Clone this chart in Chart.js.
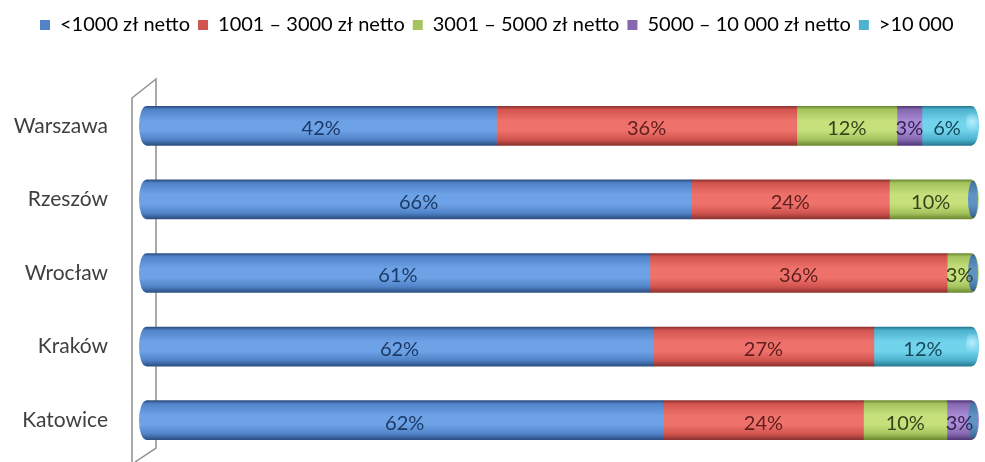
<!DOCTYPE html>
<html>
<head>
<meta charset="utf-8">
<title>Zarobki netto wg miasta</title>
<script src="https://cdn.jsdelivr.net/npm/chart.js@4/dist/chart.umd.min.js"></script>
<style>
  html, body { margin: 0; padding: 0; background: #fff; }
  #wrap { width: 985px; height: 462px; }
</style>
</head>
<body>
<div id="wrap"><canvas id="income-chart"></canvas></div>
<script>
const cities = ["Warszawa", "Rzeszów", "Wrocław", "Kraków", "Katowice"];

const seriesNames = [
    "<1000 zł netto",
    "1001 – 3000 zł netto",
    "3001 – 5000 zł netto",
    "5000 – 10 000 zł netto",
    ">10 000",
];

// percent of respondents per city, null where the group is absent
const below1000 = [42, 66, 61, 62, 62];
const from1001to3000 = [36, 24, 36, 27, 24];
const from3001to5000 = [12, 10, 3, null, 10];
const from5000to10000 = [3, null, null, null, 3];
const above10000 = [6, null, null, 12, null];

const seriesValues = [below1000, from1001to3000, from3001to5000, from5000to10000, above10000];

// light / base / dark shades used for the cylinder shading
const seriesColors = [
    { light: "#6ea2e6", base: "#5083c8", dark: "#2c4f82", text: "#1c3a66" },
    { light: "#ee726b", base: "#d2544f", dark: "#8e3330", text: "#5e1e1c" },
    { light: "#c6e07c", base: "#a5c45e", dark: "#6e8a33", text: "#33441a" },
    { light: "#a98ad6", base: "#8668b0", dark: "#52397a", text: "#35234f" },
    { light: "#72d3ec", base: "#4db2ce", dark: "#277a92", text: "#16495a" },
];

const BAR_THICKNESS = 39;
const FONT = "Lato, 'Open Sans', sans-serif";

// row totals, so every city fills the full width (100% stacked)
const rowTotals = cities.map((c, i) =>
    seriesValues.reduce((sum, s) => sum + (s[i] || 0), 0)
);

function cylinderGradient(ctx, yCenter, col) {
    const top = yCenter - BAR_THICKNESS / 2;
    const g = ctx.createLinearGradient(0, top, 0, top + BAR_THICKNESS);
    g.addColorStop(0, col.dark);
    g.addColorStop(0.08, col.base);
    g.addColorStop(0.38, col.light);
    g.addColorStop(0.62, col.light);
    g.addColorStop(0.85, col.base);
    g.addColorStop(1, col.dark);
    return g;
}

function barFill(seriesIndex) {
    return (context) => {
        const col = seriesColors[seriesIndex];
        const chart = context.chart;
        if (context.dataIndex === undefined || !chart.chartArea || !chart.scales.y) {
            return col.base;
        }
        const y = chart.scales.y.getPixelForValue(context.dataIndex);
        return cylinderGradient(chart.ctx, y, col);
    };
}

const datasets = seriesNames.map((name, s) => ({
    label: name,
    data: seriesValues[s].map((v, i) => (v == null ? null : (v / rowTotals[i]) * 100)),
    rawValues: seriesValues[s],
    backgroundColor: barFill(s),
    borderWidth: 0,
    barThickness: BAR_THICKNESS,
}));

// let the city labels use the space left of the layout padding
const wideLabels = {
    id: "wideLabels",
    afterLayout(chart) {
        chart.scales.y.left = 0;
    },
};

// 3D side wall to the left of the bars
const sideWall = {
    id: "sideWall",
    beforeDatasetsDraw(chart) {
        const { ctx, chartArea } = chart;
        const front = chartArea.left - 14;
        const back = chartArea.left + 10;
        ctx.save();
        ctx.strokeStyle = "#8f8f8f";
        ctx.lineWidth = 1.5;
        ctx.beginPath();
        ctx.moveTo(front, chart.height);
        ctx.lineTo(front, chartArea.top + 9);
        ctx.lineTo(back, chartArea.top - 10);
        ctx.lineTo(back, chartArea.bottom - 9);
        ctx.lineTo(front + 3, chart.height);
        ctx.stroke();
        ctx.restore();
    },
};

// rounded ends of each cylinder plus the value labels
const cylinderCaps = {
    id: "cylinderCaps",
    afterDatasetsDraw(chart) {
        const { ctx } = chart;
        ctx.save();
        cities.forEach((city, i) => {
            let first = null;
            let last = null;
            chart.data.datasets.forEach((ds, d) => {
                if (ds.data[i] == null) return;
                if (first === null) first = d;
                last = d;
            });
            if (first === null) return;

            const startEl = chart.getDatasetMeta(first).data[i];
            const endEl = chart.getDatasetMeta(last).data[i];
            const ry = BAR_THICKNESS / 2;

            // left dome
            ctx.fillStyle = cylinderGradient(ctx, startEl.y, seriesColors[first]);
            ctx.beginPath();
            ctx.ellipse(startEl.base, startEl.y, 7, ry, 0, Math.PI / 2, Math.PI * 1.5);
            ctx.fill();

            // right end: dome, then the flat face for non-cyan segments
            ctx.fillStyle = cylinderGradient(ctx, endEl.y, seriesColors[last]);
            ctx.beginPath();
            ctx.ellipse(endEl.x, endEl.y, 7, ry, 0, -Math.PI / 2, Math.PI / 2);
            ctx.fill();
            if (last !== 4) {
                ctx.fillStyle = cylinderGradient(ctx, endEl.y, {
                    light: "#5f93c4", base: "#4677a8", dark: "#2b4f78",
                });
                ctx.beginPath();
                ctx.ellipse(endEl.x + 1, endEl.y, 5, ry - 1, 0, 0, Math.PI * 2);
                ctx.fill();
            } else {
                const hl = ctx.createRadialGradient(endEl.x, endEl.y - 4, 0, endEl.x, endEl.y - 4, 10);
                hl.addColorStop(0, "rgba(190,240,255,0.9)");
                hl.addColorStop(1, "rgba(190,240,255,0)");
                ctx.fillStyle = hl;
                ctx.beginPath();
                ctx.ellipse(endEl.x, endEl.y - 2, 6, ry - 4, 0, 0, Math.PI * 2);
                ctx.fill();
            }
        });

        ctx.font = "20px " + FONT;
        ctx.textAlign = "center";
        ctx.textBaseline = "middle";
        chart.data.datasets.forEach((ds, d) => {
            chart.getDatasetMeta(d).data.forEach((el, i) => {
                const v = ds.rawValues[i];
                if (v == null) return;
                const p = el.getCenterPoint();
                ctx.fillStyle = seriesColors[d].text;
                ctx.fillText(v + "%", p.x, p.y + 3);
            });
        });
        ctx.restore();
    },
};

const incomeChart = new Chart(document.getElementById("income-chart"), {
    type: "bar",
    data: { labels: cities, datasets: datasets },
    plugins: [wideLabels, sideWall, cylinderCaps],
    options: {
        indexAxis: "y",
        responsive: true,
        maintainAspectRatio: false,
        animation: false,
        layout: { padding: { left: 32, right: 13, top: 7, bottom: 5 } },
        scales: {
            x: {
                stacked: true,
                min: 0,
                max: 100,
                position: "top",
                grid: { display: false },
                border: { display: false },
                ticks: { display: false },
                afterFit: (scale) => { scale.height = 44; },
            },
            y: {
                stacked: true,
                grid: { display: false, drawTicks: false },
                border: { display: false },
                ticks: {
                    color: "#404040",
                    padding: 38,
                    font: { family: FONT, size: 21 },
                },
                afterFit: (scale) => {
                    scale.width = 114;
                    scale.paddingTop = 0;
                    scale.paddingBottom = 0;
                },
            },
        },
        plugins: {
            legend: {
                position: "top",
                align: "start",
                labels: {
                    boxWidth: 10,
                    boxHeight: 10,
                    padding: 8,
                    color: "#404040",
                    font: { family: FONT, size: 20 },
                    generateLabels: (chart) =>
                        chart.data.datasets.map((ds, d) => ({
                            text: ds.label,
                            fillStyle: seriesColors[d].base,
                            strokeStyle: seriesColors[d].base,
                            lineWidth: 0,
                            datasetIndex: d,
                        })),
                },
            },
            tooltip: { enabled: false },
        },
    },
});
</script>
</body>
</html>
